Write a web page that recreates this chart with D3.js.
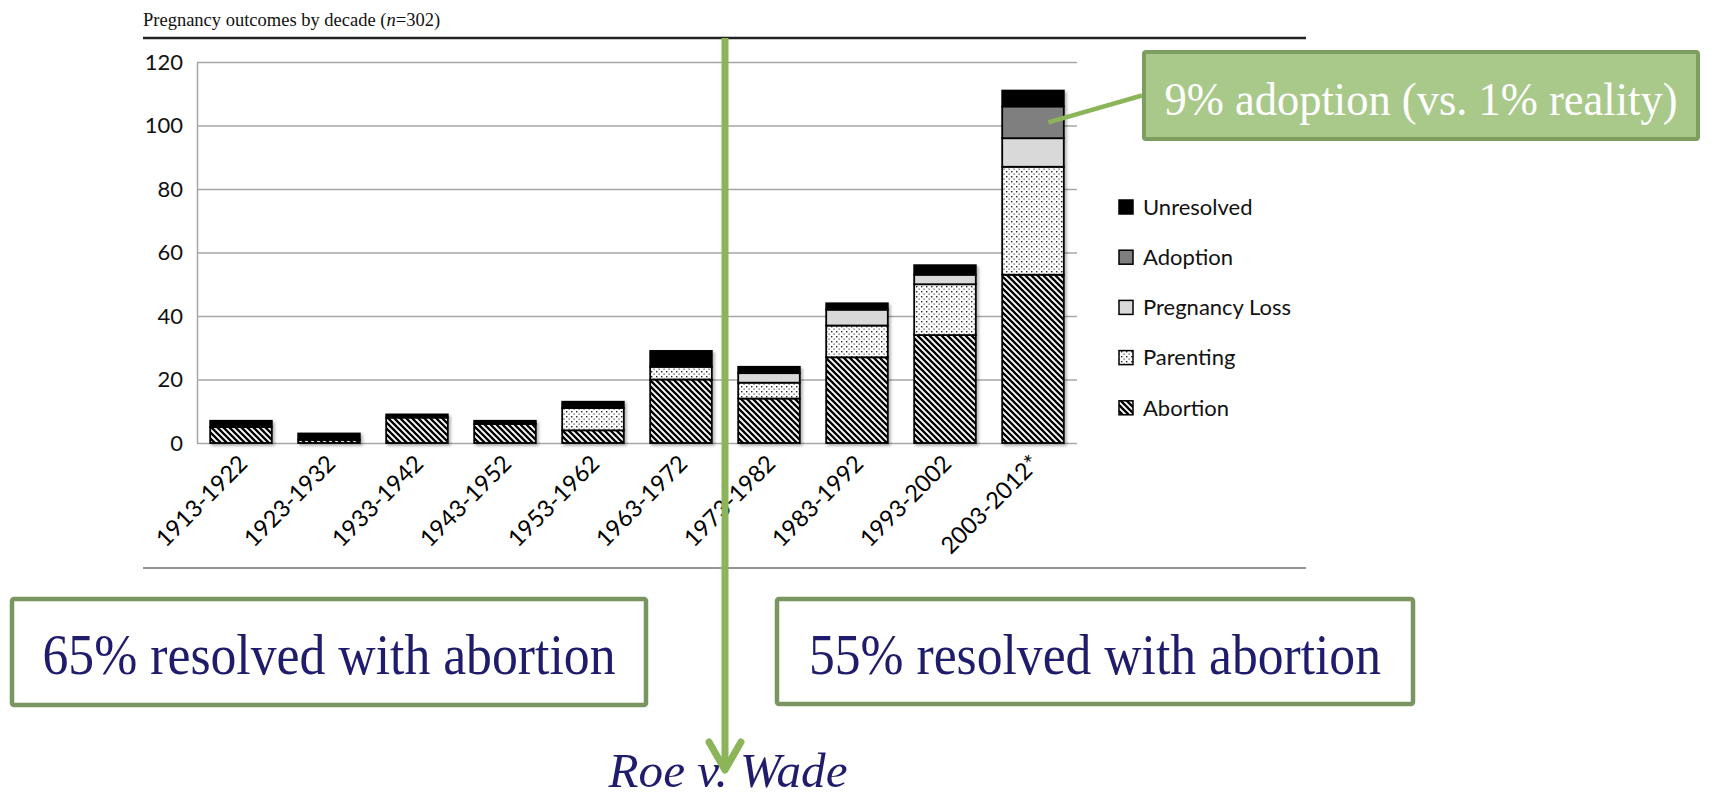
<!DOCTYPE html>
<html><head><meta charset="utf-8">
<script src="https://cdn.jsdelivr.net/npm/d3@7"></script>
<style>html,body{margin:0;padding:0;background:#fff;overflow:hidden}</style>
</head><body>
<svg id="c" width="1712" height="799"></svg>
<script>
// ---- data ----
const categories = ["1913-1922","1923-1932","1933-1942","1943-1952","1953-1962","1963-1972","1973-1982","1983-1992","1993-2002","2003-2012*"];
const abortion      = [5, 1, 8, 6, 4, 20, 14, 27, 34, 53];
const parenting     = [0, 0, 0, 0, 7,  4,  5, 10, 16, 34];
const pregnancyLoss = [0, 0, 0, 0, 0,  0,  3,  5,  3,  9];
const adoption      = [0, 0, 0, 0, 0,  0,  0,  0,  0, 10];
const unresolved    = [2, 2, 1, 1, 2,  5,  2,  2,  3,  5];
const seriesNames = ["Abortion","Parenting","Pregnancy Loss","Adoption","Unresolved"];
const legendOrder = ["Unresolved","Adoption","Pregnancy Loss","Parenting","Abortion"];
const yTicks = [0,20,40,60,80,100,120];
const titlePrefix = "Pregnancy outcomes by decade (";
const titleN = "n";
const titleSuffix = "=302)";
const preRoeNote = "65% resolved with abortion";
const postRoeNote = "55% resolved with abortion";
const adoptionNote = "9% adoption (vs. 1% reality)";
const roeLabel = "Roe v. Wade";
const roeAfterIndex = 5; // Roe line between 1963-1972 and 1973-1982

const rows = categories.map((c,i)=>({category:c, "Abortion":abortion[i], "Parenting":parenting[i],
  "Pregnancy Loss":pregnancyLoss[i], "Adoption":adoption[i], "Unresolved":unresolved[i]}));

const svg = d3.select("#c");
const defs = svg.append("defs");
const hp = defs.append("pattern").attr("id","hatch").attr("patternUnits","userSpaceOnUse").attr("width",6).attr("height",6);
hp.append("rect").attr("width",6).attr("height",6).attr("fill","#fff");
hp.append("path").attr("d","M-1,-1 L7,7 M-1,5 L1,7 M5,-1 L7,1").attr("stroke","#000").attr("stroke-width",2.3);
const dp = defs.append("pattern").attr("id","dots").attr("patternUnits","userSpaceOnUse").attr("width",5).attr("height",5);
dp.append("rect").attr("width",5).attr("height",5).attr("fill","#fff");
dp.append("rect").attr("x",1).attr("y",1).attr("width",1.4).attr("height",1.4).attr("fill","#222");
dp.append("rect").attr("x",3.5).attr("y",3.5).attr("width",1.2).attr("height",1.2).attr("fill","#444");
const f = defs.append("filter").attr("id","sh").attr("x","-20%").attr("y","-20%").attr("width","140%").attr("height","140%");
f.append("feDropShadow").attr("dx",2).attr("dy",2).attr("stdDeviation",1.6).attr("flood-color","#000").attr("flood-opacity",0.3);

const fills = {"Abortion":"url(#hatch)","Parenting":"url(#dots)","Pregnancy Loss":"#d9d9d9","Adoption":"#7f7f7f","Unresolved":"#000"};

const x = d3.scaleBand().domain(categories).range([197,1077]).paddingInner(0.3).paddingOuter(0.15);
const y = d3.scaleLinear().domain([0,120]).range([443,62]);

const title = svg.append("text").attr("x",143).attr("y",26).attr("font-family","Liberation Serif").attr("font-size",18.5).attr("fill","#111");
title.append("tspan").text(titlePrefix);
title.append("tspan").attr("font-style","italic").text(titleN);
title.append("tspan").text(titleSuffix);
svg.append("line").attr("x1",143).attr("x2",1306).attr("y1",38).attr("y2",38).attr("stroke","#222").attr("stroke-width",2.5);
svg.append("line").attr("x1",143).attr("x2",1306).attr("y1",568).attr("y2",568).attr("stroke","#707070").attr("stroke-width",1.5);

const gy = svg.append("g").attr("transform",`translate(${x.range()[0]},0)`)
  .call(d3.axisLeft(y).tickValues(yTicks).tickSize(-(x.range()[1]-x.range()[0])).tickSizeOuter(0).tickPadding(14));
gy.select(".domain").attr("stroke","#a6a6a6").attr("stroke-width",1.5);
gy.selectAll(".tick line").attr("stroke","#a6a6a6").attr("stroke-width",1.5);
gy.selectAll("text").attr("font-family","Lato").attr("font-size",22).attr("fill","#111");

const stacked = d3.stack().keys(seriesNames)(rows);
const gb = svg.append("g").attr("filter","url(#sh)");
stacked.forEach(layer=>{
  gb.selectAll(null).data(layer.filter(d=>d[1]>d[0])).enter().append("rect")
    .attr("x",d=>x(d.data.category)).attr("width",x.bandwidth())
    .attr("y",d=>y(d[1])).attr("height",d=>y(d[0])-y(d[1]))
    .attr("fill",fills[layer.key]).attr("stroke","#000").attr("stroke-width",1.8);
});

const gx = svg.append("g").attr("transform",`translate(0,${y(0)})`).call(d3.axisBottom(x).tickSize(0).tickPadding(0));
gx.select(".domain").remove();
gx.selectAll("text").attr("text-anchor","end").attr("y",0).attr("dy",0)
  .attr("transform","translate(8,22) rotate(-45)")
  .attr("font-family","Lato").attr("font-size",23.5).attr("fill","#000");

const lg = svg.append("g");
legendOrder.forEach((k,i)=>{
  const cy = 207 + i*50.2;
  lg.append("rect").attr("x",1119).attr("y",cy-7).attr("width",14).attr("height",14)
    .attr("fill",fills[k]).attr("stroke","#000").attr("stroke-width",1.5);
  lg.append("text").attr("x",1143).attr("y",cy).attr("dy","0.35em").attr("font-family","Lato")
    .attr("font-size",22).attr("fill","#111").text(k);
});

const green = "#8cb55a";
const last = categories[categories.length-1];
const adoptLayer = stacked.find(s=>s.key==="Adoption")[categories.length-1];
const boxX = 1144, boxY = 52, boxW = 554, boxH = 87;
svg.append("line").attr("x1",x(last)+x.bandwidth()*0.75).attr("y1",y((adoptLayer[0]+adoptLayer[1])/2))
  .attr("x2",boxX-2).attr("y2",boxY+boxH*0.5).attr("stroke",green).attr("stroke-width",4.5);
svg.append("rect").attr("x",boxX).attr("y",boxY).attr("width",boxW).attr("height",boxH).attr("rx",2)
  .attr("fill","#a9c98a").attr("stroke","#7e9e60").attr("stroke-width",4);
svg.append("text").attr("x",boxX+boxW/2).attr("y",115).attr("text-anchor","middle")
  .attr("font-family","Liberation Serif").attr("font-size",46).attr("fill","#fff")
  .attr("textLength",513).attr("lengthAdjust","spacingAndGlyphs").text(adoptionNote);

const navy = "#1f1d6b";
function noteBox(x0,y0,w,h,txt,tw){
  svg.append("rect").attr("x",x0).attr("y",y0).attr("width",w).attr("height",h).attr("rx",2)
    .attr("fill","#fff").attr("stroke","#7a9660").attr("stroke-width",4.5);
  svg.append("text").attr("x",x0+w/2).attr("y",y0+75).attr("text-anchor","middle")
    .attr("font-family","Liberation Serif").attr("font-size",56).attr("fill",navy)
    .attr("textLength",tw).attr("lengthAdjust","spacingAndGlyphs").text(txt);
}
noteBox(12,599,634,106,preRoeNote,573);
noteBox(777,599,636,105,postRoeNote,572);

const roeX = (x(categories[roeAfterIndex])+x.bandwidth()+x(categories[roeAfterIndex+1]))/2;
svg.append("text").attr("x",roeX+3).attr("y",787).attr("text-anchor","middle")
  .attr("font-family","Liberation Serif").attr("font-style","italic").attr("font-size",48).attr("fill",navy)
  .attr("textLength",239).attr("lengthAdjust","spacingAndGlyphs").text(roeLabel);
svg.append("line").attr("x1",roeX).attr("x2",roeX).attr("y1",38).attr("y2",768).attr("stroke",green).attr("stroke-width",7);
svg.append("path").attr("d",`M${roeX-16},${742} L${roeX},${770} L${roeX+16},${742}`)
  .attr("fill","none").attr("stroke",green).attr("stroke-width",7).attr("stroke-linecap","round").attr("stroke-linejoin","round");
</script>
</body></html>
